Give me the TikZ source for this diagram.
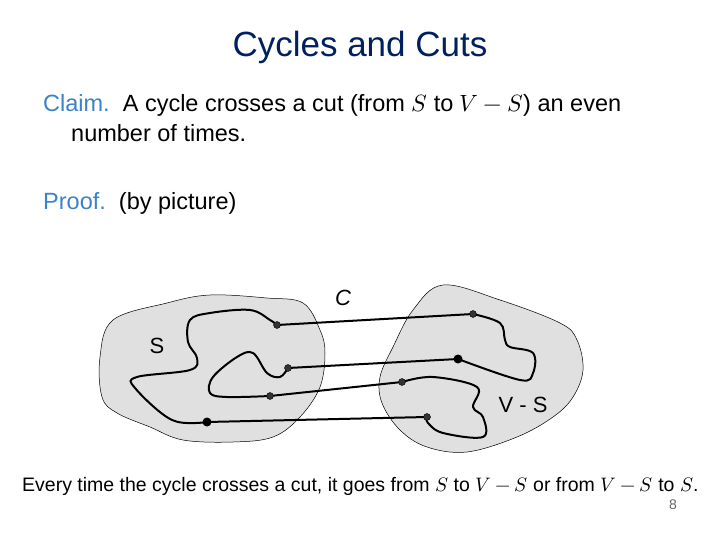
\documentclass[tikz,border=0pt]{standalone}
\usepackage{fontspec}
\setmainfont{Liberation Sans}
\usepackage{unicode-math}
\setmathfont{Latin Modern Math}
\definecolor{ttl}{RGB}{0,32,96}
\definecolor{kw}{RGB}{60,130,200}
\begin{document}
\begin{tikzpicture}[x=1pt,y=-1pt,
  blob/.style={fill=black!12,draw=black,line width=0.5pt},
  cyc/.style={line width=2pt,line join=round},
  dotp/.style={circle,fill=black!80,draw=black,inner sep=0pt,minimum size=7pt},
  dotb/.style={circle,fill=black,inner sep=0pt,minimum size=9pt},
  txt/.style={anchor=west,inner sep=0pt,font=\fontsize{23.5}{27}\selectfont}]
\useasboundingbox (0,0) rectangle (720,540);
\node (title) at (360,47) {\color{ttl}\fontsize{35}{40}\selectfont Cycles and Cuts};
\node[txt] (claim) at (43,105) {\color{kw}Claim.\ \ \color{black}A cycle crosses a cut (from $S$ to $V-S$) an even};
\node[txt] (claim2) at (71,133) {number of times.};
\node[txt] (proof) at (43,203) {\color{kw}Proof.\ \ \color{black}(by picture)};
\draw[blob] plot[smooth cycle,tension=0.6] coordinates {(113,320)(167,303)(210,295)(267,298)(303,303)(320,330)(325,353)(320,387)(300,417)(273,437)(233,442)(183,440)(150,427)(117,413)(102,397)(100,357)};
\draw[blob] plot[smooth cycle,tension=0.6] coordinates {(443,285)(500,300)(560,323)(577,340)(583,370)(573,397)(553,417)(517,437)(467,452)(427,447)(400,430)(382,403)(380,377)(393,347)(413,310)};
\coordinate (A) at (277,325); \coordinate (B) at (473,314);
\coordinate (C) at (458,359); \coordinate (D) at (288,368);
\coordinate (E) at (402,382); \coordinate (F) at (270,396);
\coordinate (G) at (427,417); \coordinate (H) at (207,422);
\draw[cyc] (A) -- (B); \draw[cyc] (C) -- (D); \draw[cyc] (F) -- (E); \draw[cyc] (G) -- (H);
\draw[cyc] plot[smooth,tension=0.6] coordinates {(B)(500,323)(505,340)(510,347)(533,353)(533,373)(520,380)(C)};
\draw[cyc] plot[smooth,tension=0.6] coordinates {(D)(280,377)(267,373)(253,353)(237,357)(213,377)(210,393)(227,397)(F)};
\draw[cyc] plot[smooth,tension=0.6] coordinates {(E)(433,377)(477,387)(473,407)(483,417)(483,437)(443,433)(428,423)(G)};
\draw[cyc] plot[smooth,tension=0.6] coordinates {(H)(172,420)(135,388)(137,377)(190,370)(197,358)(188,342)(190,320)(210,313)(250,310)(270,320)(A)};
\foreach \p in {A,B,D,E,F,G} \node[dotp] at (\p) {};
\foreach \p in {C,H} \node[dotb] at (\p) {};
\node (lS) at (157,346) {\fontsize{22}{24}\selectfont S};
\node (lC) at (343,298) {\fontsize{22}{24}\selectfont\itshape C};
\node (lVS) at (523,405) {\fontsize{22}{24}\selectfont V - S};
\node[anchor=west,inner sep=0pt] (foot) at (22,486) {\fontsize{19.5}{22}\selectfont Every time the cycle crosses a cut, it goes from $S$ to $V-S$ or from $V-S$ to $S$.};
\node (pg) at (673,505) {\color{black!60}\fontsize{14}{16}\selectfont 8};
\end{tikzpicture}
\end{document}
